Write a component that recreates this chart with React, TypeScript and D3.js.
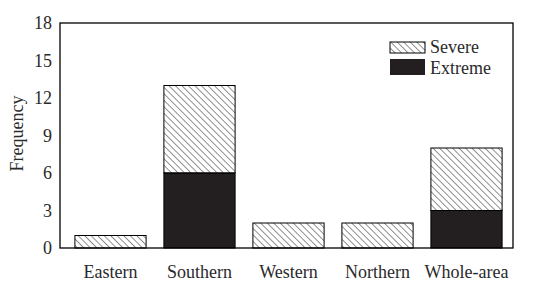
import React from 'react';
import * as d3 from 'd3';

const categories = ['Eastern', 'Southern', 'Western', 'Northern', 'Whole-area'];
const extreme = [0, 6, 0, 0, 3];
const severe = [1, 7, 2, 2, 5];
const yTicks = [0, 3, 6, 9, 12, 15, 18];

const width = 543;
const height = 294;
const margin = { top: 23, right: 30, bottom: 46, left: 60 };
const font = '"Liberation Serif", "Times New Roman", serif';
const dark = '#231f20';

const App = () => {
  const innerW = width - margin.left - margin.right;
  const innerH = height - margin.top - margin.bottom;

  const x = d3.scaleBand()
    .domain(categories)
    .range([6, innerW - 2])
    .paddingInner(0.2)
    .paddingOuter(0.1);

  const y = d3.scaleLinear().domain([0, 18]).range([innerH, 0]);

  return (
    <svg width={width} height={height} style={{ position: 'absolute', left: 0, top: 0 }}>
      <defs>
        <pattern id="hatch" patternUnits="userSpaceOnUse" width="4.6" height="4.6"
          patternTransform="rotate(-45)">
          <line x1="0" y1="0" x2="0" y2="4.6" stroke="#222" strokeWidth="1" />
        </pattern>
      </defs>
      <g transform={`translate(${margin.left},${margin.top})`} fontFamily={font}>
        {/* bars */}
        {categories.map((c, i) => {
          const x0 = x(c) as number;
          const bw = x.bandwidth();
          return (
            <g key={c}>
              {extreme[i] > 0 && (
                <rect x={x0} y={y(extreme[i])} width={bw} height={y(0) - y(extreme[i])}
                  fill={dark} stroke="#000" strokeWidth={1} />
              )}
              <rect x={x0} y={y(extreme[i] + severe[i])} width={bw}
                height={y(extreme[i]) - y(extreme[i] + severe[i])}
                fill="url(#hatch)" stroke="#000" strokeWidth={1} />
            </g>
          );
        })}

        {/* frame */}
        <rect x={0} y={0} width={innerW} height={innerH} fill="none" stroke="#000" strokeWidth={1.3} />

        {/* y tick labels */}
        {yTicks.map(t => (
          <text key={t} x={-8} y={y(t)} dy="0.35em" textAnchor="end" fontSize={18} fill="#2a2a2a">{t}</text>
        ))}

        {/* x labels */}
        {categories.map(c => (
          <text key={c} x={(x(c) as number) + x.bandwidth() / 2} y={innerH + 30}
            textAnchor="middle" fontSize={18} fill="#2a2a2a">{c}</text>
        ))}

        {/* y axis label */}
        <text transform="rotate(-90)" x={-(y(9) - 2)} y={-37} textAnchor="middle" fontSize={18} fill="#2a2a2a">Frequency</text>

        {/* legend */}
        <g transform={`translate(${330},${19})`}>
          <rect x={0} y={0} width={35} height={11} fill="url(#hatch)" stroke="#000" strokeWidth={1} />
          <text x={40} y={11} fontSize={18} fill="#2a2a2a">Severe</text>
          <rect x={0} y={17} width={35} height={16} fill={dark} />
          <text x={40} y={32} fontSize={18} fill="#2a2a2a">Extreme</text>
        </g>
      </g>
    </svg>
  );
};

export default App;
